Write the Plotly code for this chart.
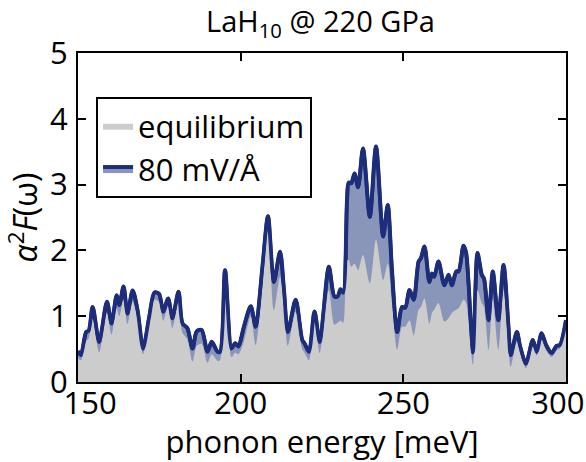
import plotly.graph_objects as go

# phonon energy (meV) and alpha^2F values
energy = [150.0, 150.9, 152.5, 153.3, 154.5, 156.5, 158.9, 160.3, 161.9, 162.7,
          164.0, 165.2, 166.8, 168.3, 170.0, 171.9, 173.5, 174.9, 176.2, 177.7,
          179.0, 180.9, 182.1, 183.6, 185.2, 186.5, 188.0, 189.8, 191.1, 192.9,
          193.7, 195.2, 197.2, 198.3, 199.3, 201.0, 203.1, 204.6, 206.7, 208.4,
          210.2, 212.1, 213.3, 214.5, 216.9, 218.9, 219.6, 221.0, 222.7, 224.3,
          227.1, 228.8, 229.8, 230.7, 231.5, 232.7, 233.2, 234.0, 235.0, 236.1,
          237.6, 239.7, 241.6, 243.8, 245.2, 246.5, 248.1, 249.6, 250.6, 251.9,
          253.2, 254.7, 255.4, 256.5, 258.0, 258.8, 259.5, 260.8, 262.6, 263.9,
          264.9, 266.3, 267.0, 268.5, 269.3, 271.4, 272.8, 274.1, 274.8, 276.2,
          277.5, 279.2, 280.8, 282.3, 283.0, 284.9, 285.9, 287.7, 289.8, 291.0,
          292.5, 293.9, 295.6, 297.1, 298.1, 300.0]

field_80 = [0.47, 0.41, 0.76, 0.78, 1.14, 0.61, 1.22, 0.89, 1.32, 1.17,
            1.45, 1.04, 1.39, 1.09, 0.51, 0.99, 1.36, 1.34, 1.07, 1.27,
            0.97, 1.37, 0.89, 0.82, 0.51, 0.77, 0.79, 0.46, 0.61, 0.46,
            0.46, 1.70, 0.51, 0.59, 0.54, 0.84, 1.15, 0.84, 1.75, 2.52,
            1.52, 1.98, 1.40, 0.76, 1.25, 0.64, 0.59, 0.46, 1.07, 0.61,
            1.75, 1.30, 1.30, 1.41, 1.36, 2.77, 3.03, 3.02, 3.17, 2.96,
            3.55, 2.51, 3.58, 2.21, 2.69, 1.70, 0.76, 1.14, 1.13, 1.40,
            1.25, 1.83, 1.88, 2.06, 1.52, 1.65, 1.60, 1.83, 1.47, 1.63,
            1.47, 1.68, 1.68, 2.07, 1.96, 0.45, 1.96, 1.63, 1.57, 0.94,
            1.68, 0.94, 1.78, 0.84, 0.41, 0.76, 0.54, 0.28, 0.64, 0.46,
            0.74, 0.56, 0.44, 0.55, 0.56, 0.94]

equilibrium = [0.36, 0.33, 0.62, 0.66, 0.96, 0.45, 1.05, 0.72, 1.12, 1.00,
               1.25, 0.88, 1.22, 0.95, 0.42, 0.88, 1.25, 1.22, 0.93, 1.15,
               0.82, 1.22, 0.75, 0.65, 0.31, 0.55, 0.58, 0.29, 0.42, 0.32,
               0.33, 1.58, 0.38, 0.45, 0.42, 0.62, 1.00, 0.56, 1.45, 2.31,
               1.09, 1.60, 1.15, 0.55, 1.07, 0.50, 0.45, 0.33, 0.97, 0.44,
               1.40, 0.87, 0.90, 0.93, 0.90, 1.85, 1.85, 1.75, 1.80, 1.70,
               1.93, 1.50, 2.16, 1.55, 1.80, 1.20, 0.49, 0.84, 0.84, 0.94,
               0.71, 1.10, 1.14, 1.27, 0.89, 1.05, 1.10, 1.20, 0.92, 0.97,
               1.05, 1.10, 1.12, 1.25, 1.20, 0.26, 1.40, 1.20, 1.14, 0.49,
               1.25, 0.49, 1.40, 0.55, 0.23, 0.61, 0.45, 0.21, 0.54, 0.40,
               0.64, 0.48, 0.38, 0.48, 0.51, 0.87]

x_ticks = [150, 200, 250, 300]
x_tick_labels = ["150", "200", "250", "300"]
y_ticks = [0, 1, 2, 3, 4, 5]

LINE = "#1d2d7a"
FILL = "#8a95ba"
GRAY = "#cccccc"
FONT = "Open Sans"
NB = "\u00a0"

# end labels nudged inward, as in the reference
x_text = list(x_tick_labels)
x_text[0] = NB * 3 + x_text[0]
x_text[-1] = x_text[-1] + NB * 2

fig = go.Figure()
fig.add_trace(go.Scatter(
    x=energy, y=field_80, name="80 mV/Å", mode="lines", fill="tozeroy",
    fillcolor=FILL, line=dict(color=LINE, width=4, shape="spline", smoothing=0.8),
    legendrank=2))
fig.add_trace(go.Scatter(
    x=energy, y=equilibrium, name="equilibrium", mode="lines", fill="tozeroy",
    fillcolor=GRAY, line=dict(color=GRAY, width=0, shape="spline", smoothing=0.8),
    legendrank=1))
fig.add_trace(go.Scatter(
    x=energy, y=field_80, mode="lines", showlegend=False,
    line=dict(color=LINE, width=3.5, shape="spline", smoothing=0.8)))

axis_common = dict(showline=True, linecolor="black", linewidth=2, mirror="ticks",
                   ticks="inside", ticklen=8, tickwidth=2, tickcolor="black",
                   showgrid=False, zeroline=False, automargin=False,
                   tickfont=dict(family=FONT, size=31, color="black"))

fig.update_layout(
    width=586, height=462,
    margin=dict(l=78, r=20, t=53, b=80),
    paper_bgcolor="white", plot_bgcolor="white",
    title=dict(text="LaH<sub>10</sub> @ 220 GPa", x=0.547, xanchor="center",
               y=0.952, yanchor="middle", automargin=False,
               font=dict(family=FONT, size=29, color="black")),
    xaxis=dict(range=[150, 300], tickvals=x_ticks, ticktext=x_text,
               ticklabeloverflow="allow", ticklabelstandoff=-7,
               title=dict(text="phonon energy [meV]", standoff=4,
                          font=dict(family=FONT, size=31, color="black")),
               **axis_common),
    yaxis=dict(range=[0, 5], tickvals=y_ticks, ticklabelstandoff=2,
               title=dict(text="<i>α</i><sup>2</sup><i>F</i>(ω)", standoff=6,
                          font=dict(family=FONT, size=32, color="black")),
               **axis_common),
    legend=dict(x=0.037, y=0.866, xanchor="left", yanchor="top",
                bordercolor="black", borderwidth=2, bgcolor="white",
                font=dict(family=FONT, size=31, color="black")),
    showlegend=True,
)

fig.write_html("out.html")
